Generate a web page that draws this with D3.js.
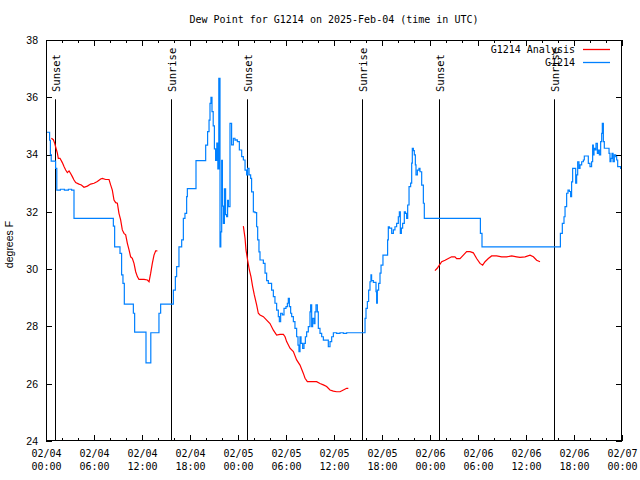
<!DOCTYPE html>
<html><head><meta charset="utf-8">
<script src="https://cdn.jsdelivr.net/npm/d3@7"></script>
<style>
html,body{margin:0;padding:0;background:#fff;}
svg{display:block;}
</style></head>
<body>
<svg id="chart" width="640" height="480"></svg>
<script>
// ---- data (hours after 2025-02-04 00:00 UTC, degrees F) ----
const titleText = "Dew Point for G1214 on 2025-Feb-04 (time in UTC)";
const yTicks = [24, 26, 28, 30, 32, 34, 36, 38];
const sunEvents = [
  [1.17, "Sunset"], [15.62, "Sunrise"], [25.17, "Sunset"],
  [39.55, "Sunrise"], [49.17, "Sunset"], [63.55, "Sunrise"]
];
// observed G1214 (step changes)
const obs = [
  [0,34.78],[0.45,34.5],[0.55,34.0],[0.65,33.77],[1.2,33.52],[1.35,32.76],[1.8,32.79],[2.3,32.76],[2.8,32.79],[3.2,32.76],
  [3.5,31.77],[8.42,31.5],[8.58,30.78],[9.25,30.55],[9.45,29.8],[9.62,29.5],[9.79,28.78],[10.92,28.46],[11.08,27.8],
  [12.5,26.73],[13.1,27.78],[14.12,28.46],[14.33,28.78],[15.92,29.27],[16.17,29.74],[16.33,30.09],[16.62,30.78],
  [16.96,31.02],[17.17,31.77],[17.37,31.95],[17.58,32.53],[17.67,32.81],[18.75,33.79],[19.96,34.33],[20.2,34.8],
  [20.38,35.2],[20.5,35.79],[20.62,36.0],[20.75,35.5],[20.9,35.0],[21.05,34.2],[21.2,33.8],[21.35,34.4],[21.48,33.5],
  [21.6,36.66],[21.75,30.78],[21.85,31.3],[21.96,33.8],[22.05,32.2],[22.17,31.6],[22.3,32.8],[22.45,31.9],[22.58,31.83],
  [22.7,32.4],[22.8,32.18],[23.0,35.09],[23.2,34.34],[23.42,34.57],[23.62,34.5],[23.75,34.51],[23.92,34.45],[24.17,34.16],
  [24.46,33.93],[24.67,33.81],[24.88,33.46],[25.08,33.29],[25.2,33.52],[25.38,33.29],[25.58,33.17],[25.7,32.7],
  [25.92,32.0],[26.12,31.97],[26.33,31.48],[26.46,31.02],[26.62,30.6],[26.75,30.32],[27.17,30.2],[27.38,29.86],
  [27.58,29.6],[27.79,29.5],[28.2,29.27],[28.42,29.04],[28.62,28.81],[28.83,28.57],[29.04,28.34],[29.17,28.17],
  [29.33,28.46],[29.54,28.4],[29.75,28.63],[30.0,28.69],[30.17,28.81],[30.29,28.98],[30.42,28.69],[30.58,28.46],
  [30.71,28.34],[30.92,28.17],[31.12,27.93],[31.33,27.64],[31.5,27.35],[31.62,27.12],[31.75,27.64],[31.88,27.41],
  [32.08,27.23],[32.25,27.41],[32.42,27.64],[32.58,27.81],[32.79,27.99],[33.0,28.51],[33.08,28.75],[33.21,27.99],
  [33.33,28.28],[33.5,28.1],[33.62,28.51],[33.75,28.75],[33.92,28.51],[34.04,27.93],[34.25,27.76],[34.46,27.64],
  [34.67,27.52],[35.29,27.29],[35.5,27.47],[35.71,27.64],[35.92,27.78],[36.33,27.76],[36.75,27.78],[37.17,27.76],
  [37.58,27.78],[39.88,28.28],[40.0,28.63],[40.17,28.87],[40.33,29.27],[40.5,29.56],[40.62,29.8],[40.7,29.6],
  [40.92,29.54],[41.25,29.21],[41.33,28.81],[41.42,29.27],[41.58,29.5],[41.75,29.86],[41.88,30.14],[42.12,30.49],
  [42.7,31.02],[42.79,31.48],[42.92,31.43],[43.21,31.25],[43.42,31.37],[43.62,31.48],[43.83,31.6],[44.04,31.83],
  [44.17,32.0],[44.29,31.25],[44.42,31.43],[44.58,31.6],[44.79,32.0],[44.92,31.95],[45.08,31.77],[45.21,32.24],
  [45.38,32.88],[45.58,33.0],[45.71,33.7],[45.79,34.22],[45.92,34.14],[46.04,33.99],[46.17,33.64],[46.25,33.29],
  [46.42,33.46],[46.62,33.52],[46.75,33.4],[46.96,32.93],[47.17,32.3],[47.29,31.77],[54.3,31.25],[54.5,30.78],
  [64.3,31.25],[64.54,31.6],[64.75,31.83],[64.88,32.18],[65.08,32.65],[65.25,32.76],[65.42,32.71],[65.58,32.53],
  [65.7,33.05],[65.83,33.52],[66.21,33.0],[66.33,33.29],[66.46,33.75],[66.62,33.52],[66.75,33.64],[66.96,33.75],
  [67.17,33.81],[67.29,33.95],[67.79,33.69],[68.0,33.58],[68.2,33.75],[68.33,34.33],[68.42,33.99],[68.5,34.22],
  [68.62,34.16],[68.75,34.39],[68.92,34.04],[69.04,34.16],[69.17,33.99],[69.33,34.45],[69.46,34.74],[69.54,35.09],
  [69.67,34.45],[69.79,34.22],[70.38,34.04],[70.5,33.75],[70.62,33.87],[70.75,34.04],[70.88,33.75],[71.04,33.99],
  [71.21,33.93],[71.33,33.81],[71.46,33.58],[71.83,33.52],[72,33.52]
];
// G1214 Analysis (three runs)
const analysis1 = [
  [0.67,34.57],[0.92,34.52],[1.08,34.4],[1.25,34.22],[1.42,34.05],[1.54,33.87],[1.75,33.87],[2.04,33.72],[2.25,33.58],
  [2.46,33.46],[2.67,33.37],[2.88,33.43],[3.08,33.34],[3.29,33.23],[3.5,33.11],[3.71,33.02],[4.12,32.97],[4.42,32.94],
  [4.75,32.86],[5.17,32.9],[5.58,32.97],[6.0,33.0],[6.42,33.06],[6.83,33.15],[7.04,33.17],[7.46,33.13],[7.88,33.13],
  [8.08,32.94],[8.29,32.76],[8.5,32.41],[8.71,32.32],[8.92,32.3],[9.12,31.95],[9.33,31.72],[9.54,31.37],[9.75,31.25],
  [9.96,31.2],[10.17,30.9],[10.38,30.67],[10.58,30.43],[10.79,30.38],[11.0,30.2],[11.21,29.91],[11.42,29.74],
  [11.62,29.64],[12.25,29.64],[12.67,29.62],[12.88,29.56],[13.08,29.85],[13.29,30.2],[13.5,30.49],[13.71,30.64],[13.92,30.64]
];
const analysis2 = [
  [24.67,31.5],[24.88,31.08],[25.0,30.67],[25.2,30.32],[25.42,29.97],[25.62,29.74],[25.83,29.39],[26.04,29.1],
  [26.33,28.75],[26.54,28.46],[26.75,28.4],[27.17,28.34],[27.58,28.22],[28.0,28.1],[28.42,27.87],[28.83,27.7],
  [29.25,27.72],[29.67,27.72],[29.88,27.64],[30.08,27.47],[30.5,27.24],[30.92,27.12],[31.33,26.83],[31.75,26.65],
  [32.17,26.36],[32.38,26.19],[32.67,26.07],[33.2,26.07],[33.83,26.07],[34.25,26.01],[34.67,25.96],[35.08,25.9],
  [35.5,25.78],[35.92,25.74],[36.33,25.72],[36.75,25.72],[37.17,25.78],[37.58,25.84],[37.79,25.84]
];
const analysis3 = [
  [48.62,29.95],[48.9,30.03],[49.17,30.14],[49.46,30.26],[49.88,30.31],[50.29,30.37],[50.7,30.43],[51.12,30.43],
  [51.33,30.37],[51.75,30.37],[52.17,30.49],[52.58,30.61],[53.0,30.61],[53.42,30.57],[53.83,30.37],[54.25,30.2],
  [54.58,30.14],[54.88,30.26],[55.29,30.37],[55.7,30.46],[56.33,30.46],[56.96,30.43],[57.58,30.43],[58.21,30.46],
  [58.83,30.43],[59.25,30.41],[59.88,30.43],[60.5,30.49],[60.92,30.43],[61.33,30.31],[61.75,30.26]
];
const legendItems = [["G1214 Analysis", "#ff0000"], ["G1214", "#0080ff"]];

// ---- drawing ----
const W = 640, H = 480;
const L = 46, R = 622, T = 40, B = 441;
const base = Date.UTC(2025, 1, 4);
const toDate = h => new Date(base + h * 3600e3);
const x = d3.scaleUtc().domain([toDate(0), toDate(72)]).range([L, R]);
const y = d3.scaleLinear().domain([24, 38]).range([B, T]);
const svg = d3.select("#chart");
const mono = "'DejaVu Sans Mono', 'Liberation Mono', monospace";
const sans = "'Liberation Sans', Arial, sans-serif";

svg.append("rect").attr("width", W).attr("height", H).attr("fill", "#fff");

// title
svg.append("text").attr("x", (L + R) / 2).attr("y", 23).attr("text-anchor", "middle")
  .style("font-family", mono).style("font-size", "10px").text(titleText);

const majorTicks = d3.utcHour.every(6).range(toDate(0), toDate(72.01));
const minorTicks = d3.utcHour.every(2).range(toDate(0), toDate(72.01));

function styleAxis(g) {
  g.select(".domain").remove();
  g.selectAll(".tick line").attr("stroke", "#000").attr("shape-rendering", "crispEdges");
}
// bottom major with labels
const fmtD = d3.utcFormat("%m/%d"), fmtT = d3.utcFormat("%H:%M");
const gb = svg.append("g").attr("transform", `translate(0,${B})`)
  .call(d3.axisBottom(x).tickValues(majorTicks).tickSize(-6).tickPadding(6).tickFormat(""))
  .call(styleAxis);
gb.selectAll(".tick text").each(function(d) {
  const t = d3.select(this).attr("fill", "#000").style("font-family", mono).style("font-size", "10px").attr("dy", null).attr("y", 16);
  t.append("tspan").attr("x", 0).attr("y", 16).text(fmtD(d));
  t.append("tspan").attr("x", 0).attr("y", 29).text(fmtT(d));
});
svg.append("g").attr("transform", `translate(0,${B})`)
  .call(d3.axisBottom(x).tickValues(minorTicks).tickSize(-3).tickFormat("")).call(styleAxis);
svg.append("g").attr("transform", `translate(0,${T})`)
  .call(d3.axisTop(x).tickValues(majorTicks).tickSize(-6).tickFormat("")).call(styleAxis);
svg.append("g").attr("transform", `translate(0,${T})`)
  .call(d3.axisTop(x).tickValues(minorTicks).tickSize(-3).tickFormat("")).call(styleAxis);
// y axes
const gl = svg.append("g").attr("transform", `translate(${L},0)`)
  .call(d3.axisLeft(y).tickValues(yTicks).tickSize(-6).tickPadding(8).tickFormat(d3.format("d")))
  .call(styleAxis);
gl.selectAll(".tick text").attr("fill", "#000").style("font-family", sans).style("font-size", "10.5px");
svg.append("g").attr("transform", `translate(${R},0)`)
  .call(d3.axisRight(y).tickValues(yTicks).tickSize(-6).tickFormat("")).call(styleAxis);

// y label
svg.append("text").attr("transform", `translate(13,${(T + B) / 2 + 4}) rotate(-90)`).attr("text-anchor", "middle")
  .style("font-family", sans).style("font-size", "10.5px").text("degrees F");

// sun lines
const sunTop = 35.93;
sunEvents.forEach(([h, label]) => {
  const sx = Math.round(x(toDate(h))) + 0.5;
  svg.append("line").attr("x1", sx).attr("x2", sx).attr("y1", y(sunTop)).attr("y2", B)
    .attr("stroke", "#000").attr("stroke-width", 1);
  svg.append("text").attr("transform", `translate(${sx + 4.5},92) rotate(-90)`)
    .style("font-family", mono).style("font-size", "10.5px").text(label);
});

// series
const clip = svg.append("clipPath").attr("id", "clip").append("rect")
  .attr("x", L).attr("y", T).attr("width", R - L).attr("height", B - T);
const stepLine = d3.line().x(d => x(toDate(d[0]))).y(d => y(d[1])).curve(d3.curveStepAfter);
const lin = d3.line().x(d => x(toDate(d[0]))).y(d => y(d[1]));
const plot = svg.append("g").attr("clip-path", "url(#clip)");
plot.append("path").datum(obs).attr("d", stepLine).attr("fill", "none")
  .attr("stroke", legendItems[1][1]).attr("stroke-width", 1.2);
[analysis1, analysis2, analysis3].forEach(s => {
  plot.append("path").datum(s).attr("d", lin).attr("fill", "none")
    .attr("stroke", legendItems[0][1]).attr("stroke-width", 1.2);
});

// border
svg.append("rect").attr("x", L + 0.5).attr("y", T + 0.5).attr("width", R - L - 1).attr("height", B - T - 1)
  .attr("fill", "none").attr("stroke", "#000").attr("stroke-width", 1);

// legend
legendItems.forEach(([name, col], i) => {
  const ly = 49 + i * 13;
  svg.append("text").attr("x", 575).attr("y", ly + 3.5).attr("text-anchor", "end")
    .style("font-family", mono).style("font-size", "10px").text(name);
  svg.append("line").attr("x1", 583).attr("x2", 610).attr("y1", ly + 0.5).attr("y2", ly + 0.5)
    .attr("stroke", col).attr("stroke-width", 1.3);
});
</script>
</body></html>
